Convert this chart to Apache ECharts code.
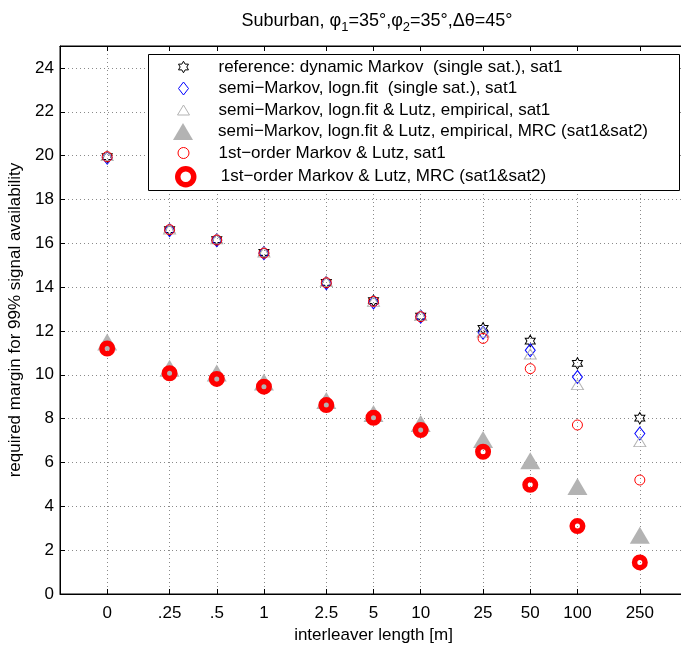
<!DOCTYPE html>
<html>
<head>
<meta charset="utf-8">
<script src="https://cdn.jsdelivr.net/npm/echarts@6/dist/echarts.min.js"></script>
<style>
  html, body { margin: 0; padding: 0; background: #fff; overflow: hidden; }
  #chart { width: 681px; height: 646px; }
</style>
</head>
<body>
<div id="chart"></div>
<script>
// Interleaver lengths shown on the x axis; "0" is drawn one log step left of .25
const tickLabels = ['0', '.25', '.5', '1', '2.5', '5', '10', '25', '50', '100', '250'];
const xPositions = [0.1, 0.25, 0.5, 1, 2.5, 5, 10, 25, 50, 100, 250];

// Required margin [dB] for 99% signal availability
const refDynMarkovSat1   = [19.95, 16.62, 16.16, 15.58, 14.22, 13.38, 12.68, 12.12, 11.54, 10.52, 8.02];
const semiMarkovLognSat1 = [19.90, 16.60, 16.14, 15.55, 14.18, 13.30, 12.65, 11.92, 11.12, 9.90, 7.32];
const semiMarkovLutzSat1 = [20.00, 16.65, 16.20, 15.60, 14.25, 13.35, 12.70, 11.95, 10.95, 9.55, 6.95];
const semiMarkovLutzMRC  = [11.50, 10.30, 10.08, 9.67, 8.83, 8.24, 7.78, 7.05, 6.08, 4.90, 2.68];
const firstOrderLutzSat1 = [19.95, 16.62, 16.15, 15.55, 14.20, 13.35, 12.65, 11.66, 10.28, 7.71, 5.20];
const firstOrderLutzMRC  = [11.20, 10.07, 9.81, 9.46, 8.62, 8.04, 7.48, 6.49, 4.98, 3.10, 1.44];

const seriesNames = [
  'reference: dynamic Markov  (single sat.), sat1',
  'semi\u2212Markov, logn.fit  (single sat.), sat1',
  'semi\u2212Markov, logn.fit & Lutz, empirical, sat1',
  'semi\u2212Markov, logn.fit & Lutz, empirical, MRC (sat1&sat2)',
  '1st\u2212order Markov & Lutz, sat1',
  '1st\u2212order Markov & Lutz, MRC (sat1&sat2)'
];

const FONT = '"Liberation Sans", Arial, Helvetica, sans-serif';
const FS = 17;
const GRAY = '#b3b3b3';
const CLEAR = 'rgba(0,0,0,0)';
const HEXAGRAM = 'path://M50 0 L64.43 25 L93.3 25 L78.87 50 L93.3 75 L64.43 75 L50 100 L35.57 75 L6.7 75 L21.13 50 L6.7 25 L35.57 25 Z';

// marker definitions per series
const markers = [
  { symbol: HEXAGRAM,   size: [10, 11.5], style: { color: CLEAR, borderColor: '#000', borderWidth: 1, opacity: 1 } },
  { symbol: 'diamond',  size: [10, 13],   style: { color: CLEAR, borderColor: '#0000ff', borderWidth: 1, opacity: 1 } },
  { symbol: 'triangle', size: [12, 10],   style: { color: CLEAR, borderColor: GRAY, borderWidth: 1, opacity: 1 } },
  { symbol: 'triangle', size: [20, 17],   style: { color: GRAY, borderWidth: 0, opacity: 1 } },
  { symbol: 'circle',   size: 10,         style: { color: CLEAR, borderColor: '#ff0000', borderWidth: 1, opacity: 1 } },
  { symbol: 'circle',   size: 10.5,       style: { color: CLEAR, borderColor: '#ff0000', borderWidth: 5.5, opacity: 1 } }
];
const values = [refDynMarkovSat1, semiMarkovLognSat1, semiMarkovLutzSat1,
                semiMarkovLutzMRC, firstOrderLutzSat1, firstOrderLutzMRC];

function labelFor(v) {
  let best = 0, bestD = Infinity;
  xPositions.forEach((x, i) => {
    const d = Math.abs(Math.log(v) - Math.log(x));
    if (d < bestD) { bestD = d; best = i; }
  });
  return tickLabels[best];
}

const series = values.map((vals, k) => ({
  name: seriesNames[k],
  type: 'scatter',
  xAxisIndex: 0,
  yAxisIndex: 0,
  symbol: markers[k].symbol,
  symbolSize: markers[k].size,
  itemStyle: markers[k].style,
  emphasis: { disabled: true },
  data: xPositions.map((x, i) => [x, vals[i]]),
  z: 2 + k * 0.1
}));

// legend: one row per component so each keeps its own marker size
const legendBoxLeft = 148, legendBoxTop = 54, legendBoxW = 531, legendBoxH = 136;
const rowYs = [68, 89.5, 111, 132.5, 154, 175.5];
const iconCenterX = 183, textLeft = 218, textH = 19;
const legends = markers.map((m, k) => {
  const w = Array.isArray(m.size) ? m.size[0] : m.size + m.style.borderWidth;
  const h = Array.isArray(m.size) ? m.size[1] : m.size + m.style.borderWidth;
  const left = iconCenterX - w / 2;
  const pad = textLeft - (left + w + 5);
  return {
    show: true,
    orient: 'horizontal',
    left: left,
    top: rowYs[k] - Math.max(h, textH) / 2,
    padding: 0,
    itemGap: 0,
    itemWidth: w,
    itemHeight: h,
    selectedMode: false,
    z: 10,
    data: [{
      name: seriesNames[k],
      icon: m.symbol,
      itemStyle: Object.assign({}, m.style)
    }],
    textStyle: { fontSize: FS, color: '#000', fontFamily: FONT, padding: [0, 0, 0, pad] }
  };
});

const chart = echarts.init(document.getElementById('chart'), null, { renderer: 'canvas' });
chart.setOption({
  animation: false,
  backgroundColor: '#fff',
  textStyle: { fontFamily: FONT },
  title: {
    text: 'Suburban, \u03c6{s|1}=35\u00b0,\u03c6{s|2}=35\u00b0,\u0394\u03b8=45\u00b0',
    left: 372,
    top: 3,
    textAlign: 'center',
    textStyle: {
      fontSize: 18, fontWeight: 'normal', color: '#000', fontFamily: FONT, lineHeight: 26,
      rich: { s: { fontSize: 13, lineHeight: 14, verticalAlign: 'bottom', fontFamily: FONT, color: '#000' } }
    }
  },
  grid: { left: 60, width: 627, top: 46, height: 548, containLabel: false,
          outerBoundsMode: 'none',
          show: true, borderColor: '#000', borderWidth: 1, backgroundColor: CLEAR },
  xAxis: [{
    type: 'log',
    logBase: 10,
    min: 0.05,
    max: 500,
    position: 'bottom',
    name: 'interleaver length [m]',
    nameLocation: 'middle',
    nameGap: 33,
    nameTextStyle: { fontSize: FS, color: '#000', fontFamily: FONT },
    axisLine: { show: true, onZero: false, lineStyle: { color: '#000', width: 1 } },
    axisTick: { show: true, inside: true, length: 5, customValues: xPositions,
                lineStyle: { color: '#000', width: 1 } },
    axisLabel: { show: true, customValues: xPositions, formatter: labelFor,
                 fontSize: FS, color: '#000', fontFamily: FONT, margin: 11 },
    minorTick: { show: false },
    minorSplitLine: { show: false },
    splitLine: { show: true, lineStyle: { type: [1, 3], color: '#8a8a8a', width: 1 } }
  }, {
    type: 'log',
    logBase: 10,
    min: 0.05,
    max: 500,
    position: 'top',
    axisLine: { show: true, onZero: false, lineStyle: { color: '#000', width: 1 } },
    axisTick: { show: true, inside: true, length: 5, customValues: xPositions,
                lineStyle: { color: '#000', width: 1 } },
    axisLabel: { show: false, customValues: xPositions },
    splitLine: { show: false }
  }],
  yAxis: [{
    type: 'value',
    min: 0,
    max: 25,
    interval: 2,
    name: 'required margin for 99% signal availability',
    nameLocation: 'middle',
    nameGap: 27,
    nameTextStyle: { fontSize: FS, color: '#000', fontFamily: FONT },
    axisLine: { show: true, onZero: false, lineStyle: { color: '#000', width: 1 } },
    axisTick: { show: true, inside: true, length: 5, lineStyle: { color: '#000', width: 1 } },
    axisLabel: { fontSize: FS, color: '#000', fontFamily: FONT, margin: 6,
                 formatter: v => (v > 24 ? '' : String(v)) },
    splitLine: { show: true, lineStyle: { type: [1, 3], color: '#8a8a8a', width: 1 } }
  }],
  legend: legends,
  graphic: [{
    type: 'rect',
    z: 8,
    shape: { x: legendBoxLeft + 0.5, y: legendBoxTop + 0.5, width: legendBoxW, height: legendBoxH },
    style: { fill: '#fff', stroke: '#000', lineWidth: 1 }
  }],
  series: series
});
</script>
</body>
</html>
